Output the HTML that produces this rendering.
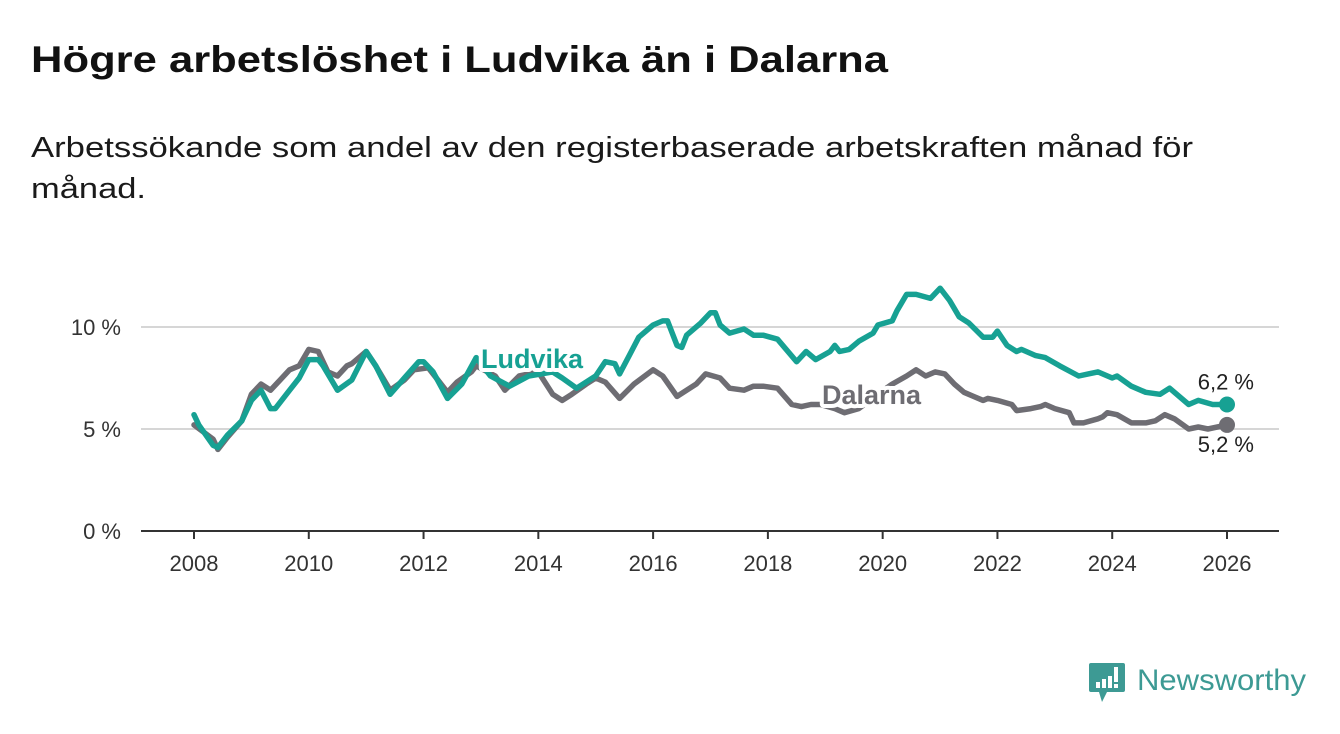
<!DOCTYPE html>
<html><head><meta charset="utf-8">
<style>
html,body{margin:0;padding:0;background:#fff;}
svg{display:block;font-family:"Liberation Sans","DejaVu Sans",sans-serif;}
</style></head>
<body>
<svg id="chart" width="1340" height="734" viewBox="0 0 1340 734">
  <text x="31" y="72" font-size="37" font-weight="bold" fill="#111" textLength="857" lengthAdjust="spacingAndGlyphs">Högre arbetslöshet i Ludvika än i Dalarna</text>
  <text x="31" y="157" font-size="29" fill="#1a1a1a" textLength="1162" lengthAdjust="spacingAndGlyphs">Arbetssökande som andel av den registerbaserade arbetskraften månad för</text>
  <text x="31" y="198" font-size="29" fill="#1a1a1a" textLength="115" lengthAdjust="spacingAndGlyphs">månad.</text>
  <g id="grid"></g>
  <g id="xaxis"></g>
  <g id="series"></g>
  <g>
    <path d="M1091 663 h32 a2 2 0 0 1 2 2 v25 a2 2 0 0 1 -2 2 h-16 l-5 10 l-3 -10 h-8 a2 2 0 0 1 -2 -2 v-25 a2 2 0 0 1 2 -2z" fill="#3d9a94"/>
    <rect x="1096" y="682" width="4" height="6" fill="#fff"/>
    <rect x="1102" y="679" width="4" height="9" fill="#fff"/>
    <rect x="1108" y="676" width="4" height="12" fill="#fff"/>
    <rect x="1114" y="667" width="4" height="15" fill="#fff"/>
    <rect x="1114" y="684" width="4" height="4" fill="#fff"/>
    <text x="1137" y="690" font-size="30" fill="#3d9a94" textLength="169" lengthAdjust="spacingAndGlyphs">Newsworthy</text>
  </g>
</svg>
<script>
const yTicks = [0, 5, 10];
const yTickLabels = ["0 %", "5 %", "10 %"];
const xTicks = [2008, 2010, 2012, 2014, 2016, 2018, 2020, 2022, 2024, 2026];
const ludvikaMonths = [0,1,4,5,7,10,12,14,16,17,20,22,24,26,27,30,33,36,38,41,44,47,48,50,53,56,59,62,66,70,75,77,80,84,86,88,89,91,93,96,98,99,101,102,103,106,108,109,110,112,115,117,119,122,126,128,130,133,134,135,137,139,142,143,146,147,149,151,154,156,158,160,162,165,167,168,170,172,173,176,178,181,185,187,189,192,193,196,199,202,204,208,210,213,216];
const ludvikaValues = [5.7,5.2,4.2,4.1,4.7,5.4,6.4,6.9,6.0,6.0,6.9,7.5,8.4,8.4,8.1,6.9,7.4,8.8,8.1,6.7,7.5,8.3,8.3,7.8,6.5,7.2,8.5,7.6,7.1,7.6,7.8,7.5,7.0,7.6,8.3,8.2,7.7,8.6,9.5,10.1,10.3,10.3,9.1,9.0,9.6,10.2,10.7,10.7,10.1,9.7,9.9,9.6,9.6,9.4,8.3,8.8,8.4,8.8,9.1,8.8,8.9,9.3,9.7,10.1,10.3,10.8,11.6,11.6,11.4,11.9,11.3,10.5,10.2,9.5,9.5,9.8,9.1,8.8,8.9,8.6,8.5,8.1,7.6,7.7,7.8,7.5,7.6,7.1,6.8,6.7,7.0,6.2,6.4,6.2,6.2];
const dalarnaMonths = [0,4,5,7,10,12,14,16,18,20,22,24,26,28,30,32,33,36,38,41,44,46,49,51,53,55,58,59,63,65,68,72,75,77,79,82,84,86,89,92,96,98,101,105,107,110,112,115,117,119,122,125,127,129,131,134,136,139,143,146,149,151,153,155,157,159,161,163,165,166,168,171,172,175,177,178,180,183,184,186,189,190,191,193,196,197,199,201,203,205,208,210,212,216];
const dalarnaValues = [5.2,4.5,4.0,4.6,5.4,6.7,7.2,6.9,7.4,7.9,8.1,8.9,8.8,7.8,7.6,8.1,8.2,8.8,8.1,6.9,7.4,7.9,8.0,7.4,6.8,7.3,7.8,8.1,7.6,6.9,7.6,7.8,6.7,6.4,6.7,7.2,7.5,7.3,6.5,7.2,7.9,7.6,6.6,7.2,7.7,7.5,7.0,6.9,7.1,7.1,7.0,6.2,6.1,6.2,6.2,6.0,5.8,6.0,6.7,7.2,7.6,7.9,7.6,7.8,7.7,7.2,6.8,6.6,6.4,6.5,6.4,6.2,5.9,6.0,6.1,6.2,6.0,5.8,5.3,5.3,5.5,5.6,5.8,5.7,5.3,5.3,5.3,5.4,5.7,5.5,5.0,5.1,5.0,5.2];

const NS = "http://www.w3.org/2000/svg";
const x0 = 194, pxPerYear = (1227 - 194) / 18;
const xScale = m => x0 + (m / 12) * pxPerYear;
const xYear = yr => x0 + (yr - 2008) * pxPerYear;
const yScale = v => 531 - v * 20.4;
function mk(tag, attrs, parent) {
  const e = document.createElementNS(NS, tag);
  for (const k in attrs) e.setAttribute(k, attrs[k]);
  parent.appendChild(e);
  return e;
}
const grid = document.getElementById('grid');
yTicks.forEach((t, i) => {
  const y = yScale(t);
  const ln = mk('line', {x1: 141, x2: 1279, y1: y, y2: y, stroke: t === 0 ? '#333' : '#d6d6d6', 'stroke-width': 2}, grid);
  
  
  const tx = mk('text', {x: 121, y: y + 8, 'font-size': 22, fill: '#333', 'text-anchor': 'end'}, grid);
  tx.textContent = yTickLabels[i];
  
  
});
const xa = document.getElementById('xaxis');
xTicks.forEach(yr => {
  const x = xYear(yr);
  const tk = mk('line', {x1: x, x2: x, y1: 531, y2: 539, stroke: '#333', 'stroke-width': 2}, xa);
  
  
  const tx = mk('text', {x: x, y: 571, 'font-size': 22, fill: '#333', 'text-anchor': 'middle'}, xa);
  tx.textContent = yr;
  
  
});
const sg = document.getElementById('series');
function drawSeries(months, vals, color, name) {
  const d = months.map((m, i) => (i ? 'L' : 'M') + xScale(m).toFixed(1) + ' ' + yScale(vals[i]).toFixed(1)).join(' ');
  const p = mk('path', {d: d, fill: 'none', stroke: color, 'stroke-width': 5.5, 'stroke-linejoin': 'round', 'stroke-linecap': 'round'}, sg);
  
  
  const lm = months[months.length - 1], lv = vals[vals.length - 1];
  const c = mk('circle', {cx: xScale(lm), cy: yScale(lv), r: 8, fill: color}, sg);
  
  
  return [xScale(lm), yScale(lv), lv];
}
const dEnd = drawSeries(dalarnaMonths, dalarnaValues, '#6e6d73', 'dalarna');
const lEnd = drawSeries(ludvikaMonths, ludvikaValues, '#17a193', 'ludvika');
function label(x, y, txt, color, name, size, weight) {
  const t = mk('text', {x: x, y: y, 'font-size': size, 'font-weight': weight, fill: color, stroke: '#fff', 'stroke-width': 8, 'paint-order': 'stroke', 'stroke-linejoin': 'round'}, sg);
  t.textContent = txt;
  
  
  return t;
}
label(481, 368, 'Ludvika', '#17a193', 'ludvika-series-label', 27, 'bold');
label(822, 404, 'Dalarna', '#6e6d73', 'dalarna-series-label', 27, 'bold');
const fmt = v => v.toFixed(1).replace('.', ',') + ' %';
const le = label(lEnd[0] + 27, lEnd[1] - 15, fmt(lEnd[2]), '#222', 'ludvika-end-value', 22, 'normal');
le.setAttribute('text-anchor', 'end');
const de = label(dEnd[0] + 27, dEnd[1] + 27, fmt(dEnd[2]), '#222', 'dalarna-end-value', 22, 'normal');
de.setAttribute('text-anchor', 'end');
</script>
</body></html>
